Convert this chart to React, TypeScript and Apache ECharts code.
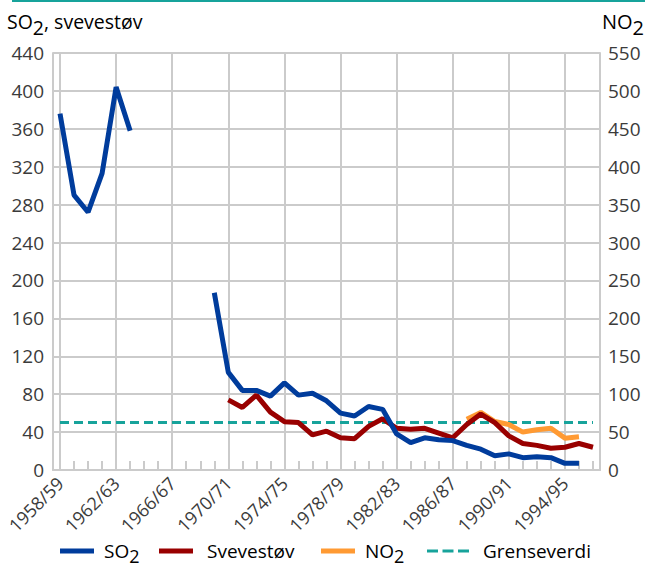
import React, { useEffect, useRef } from "react";
import * as echarts from "echarts";

const categories = [
  "1958/59", "1959/60", "1960/61", "1961/62", "1962/63", "1963/64", "1964/65", "1965/66",
  "1966/67", "1967/68", "1968/69", "1969/70", "1970/71", "1971/72", "1972/73", "1973/74",
  "1974/75", "1975/76", "1976/77", "1977/78", "1978/79", "1979/80", "1980/81", "1981/82",
  "1982/83", "1983/84", "1984/85", "1985/86", "1986/87", "1987/88", "1988/89", "1989/90",
  "1990/91", "1991/92", "1992/93", "1993/94", "1994/95", "1995/96", "1996/97",
];

const so2 = [
  376, 290, 272, 313, 404, 358, null, null, null, null, null, 187, 103, 84, 84, 78, 92, 79, 81,
  73, 60, 57, 67, 64, 38, 29, 34, 32, 31, 26, 22, 15, 17, 13, 14, 13, 7, 7, null,
];

const svevestov = [
  null, null, null, null, null, null, null, null, null, null, null, null, 74, 66, 79, 61, 51, 50,
  37, 41, 34, 33, 46, 54, 44, 43, 44, 39, 34, 48, 59, 50, 36, 28, 26, 23, 24, 28, 24,
];

const no2 = [
  null, null, null, null, null, null, null, null, null, null, null, null, null, null, null, null,
  null, null, null, null, null, null, null, null, null, null, null, null, null, 67, 76, 64, 60,
  50, 53, 55, 42, 44, null,
];

const grenseverdi = [
  50, 50, 50, 50, 50, 50, 50, 50, 50, 50, 50, 50, 50, 50, 50, 50, 50, 50, 50, 50, 50, 50, 50,
  50, 50, 50, 50, 50, 50, 50, 50, 50, 50, 50, 50, 50, 50, 50, 50,
];

const legendLabels = ["SO2", "Svevestøv", "NO2", "Grenseverdi"];

const FONT = '"Open Sans", "Noto Sans", sans-serif';
const TEXT = "#3b3b3b";
const GRID = "#cbcbcb";
const TEAL = "#17a39b";
const BLUE = "#003c9c";
const RED = "#990000";
const ORANGE = "#ff9a33";
const COLORS = [BLUE, RED, ORANGE, TEAL];

function richSet(size: number, subSize: number, subPad: number) {
  return {
    t: { fontSize: size, color: TEXT, fontFamily: FONT, lineHeight: 26 },
    s: { fontSize: subSize, color: TEXT, fontFamily: FONT, lineHeight: 26, padding: [subPad, 0, 0, 0] },
  };
}

function richLabel(name: string) {
  if (name === "SO2") return "{t|SO}{s|2}";
  if (name === "NO2") return "{t|NO}{s|2}";
  return "{t|" + name + "}";
}

export default function App() {
  const ref = useRef<HTMLDivElement>(null);

  useEffect(() => {
    if (!ref.current) return;
    const chart = echarts.init(ref.current, null, { renderer: "svg" });

    const iconX = [60, 159, 321, 427];
    const textX = [104, 207, 365, 483];
    const legendY = 551;
    const legendGraphics: any[] = [];
    legendLabels.forEach((name, i) => {
      if (name === "Grenseverdi") {
        [0, 15.5, 31].forEach((dx) => {
          legendGraphics.push({
            type: "rect",
            shape: { x: iconX[i] + dx, y: legendY - 1.5, width: 11, height: 3 },
            style: { fill: COLORS[i] },
          });
        });
      } else {
        legendGraphics.push({
          type: "rect",
          shape: { x: iconX[i], y: legendY - 2.5, width: 34, height: 5 },
          style: { fill: COLORS[i] },
        });
      }
      legendGraphics.push({
        type: "text",
        x: textX[i],
        y: legendY,
        style: {
          text: richLabel(name),
          rich: richSet(19, 18, 10),
          align: "left",
          verticalAlign: "middle",
        },
      });
    });

    const option: any = {
      animation: false,
      textStyle: { fontFamily: FONT },
      grid: { left: 53, right: 45, top: 53, bottom: 98, containLabel: false, outerBoundsMode: "none" },
      graphic: [
        {
          type: "line",
          shape: { x1: 12, y1: 1, x2: 645, y2: 1 },
          style: { stroke: TEAL, lineWidth: 2 },
        },
        {
          type: "text",
          x: 7,
          y: 21,
          style: {
            text: "{t|SO}{s|2}{t|, svevestøv}",
            rich: richSet(19.5, 19.5, 12),
            align: "left",
            verticalAlign: "middle",
          },
        },
        {
          type: "text",
          x: 644,
          y: 21,
          style: {
            text: "{t|NO}{s|2}",
            rich: richSet(20, 20, 12),
            align: "right",
            verticalAlign: "middle",
          },
        },
        ...legendGraphics,
      ],
      xAxis: {
        type: "category",
        data: categories,
        boundaryGap: true,
        axisLine: { show: true, lineStyle: { color: GRID, width: 2 } },
        axisTick: {
          show: true,
          inside: true,
          length: 9,
          interval: 0,
          alignWithLabel: true,
          lineStyle: { color: GRID, width: 2 },
        },
        axisLabel: { interval: 3, rotate: 45, fontSize: 18, color: TEXT, margin: 10 },
        splitLine: {
          show: true,
          interval: 3,
          alignWithLabel: true,
          lineStyle: { color: GRID, width: 2 },
        },
      },
      yAxis: [
        {
          type: "value",
          position: "left",
          min: 0,
          max: 440,
          interval: 40,
          axisLine: { show: true, lineStyle: { color: GRID, width: 2 } },
          axisTick: { show: false },
          axisLabel: { fontSize: 19, color: TEXT, margin: 9 },
          splitLine: { show: true, lineStyle: { color: GRID, width: 2 } },
        },
        {
          type: "value",
          position: "right",
          min: 0,
          max: 550,
          interval: 50,
          axisLine: { show: true, lineStyle: { color: GRID, width: 2 } },
          axisTick: { show: false },
          axisLabel: { fontSize: 19, color: TEXT, margin: 8 },
          splitLine: { show: false },
        },
      ],
      series: [
        {
          name: legendLabels[0],
          type: "line",
          data: so2,
          yAxisIndex: 0,
          symbol: "none",
          color: BLUE,
          lineStyle: { color: BLUE, width: 5 },
          z: 6,
        },
        {
          name: legendLabels[1],
          type: "line",
          data: svevestov,
          yAxisIndex: 0,
          symbol: "none",
          color: RED,
          lineStyle: { color: RED, width: 5 },
          z: 5,
        },
        {
          name: legendLabels[2],
          type: "line",
          data: no2,
          yAxisIndex: 1,
          symbol: "none",
          color: ORANGE,
          lineStyle: { color: ORANGE, width: 5 },
          z: 4,
        },
        {
          name: legendLabels[3],
          type: "line",
          data: grenseverdi,
          yAxisIndex: 0,
          symbol: "none",
          color: TEAL,
          lineStyle: { color: TEAL, width: 3, type: [9, 5] },
          z: 3,
        },
      ],
    };
    chart.setOption(option);
    return () => chart.dispose();
  }, []);

  return (
    <div
      ref={ref}
      style={{ position: "fixed", left: 0, top: 0, width: 645, height: 568, background: "#fff" }}
    />
  );
}
